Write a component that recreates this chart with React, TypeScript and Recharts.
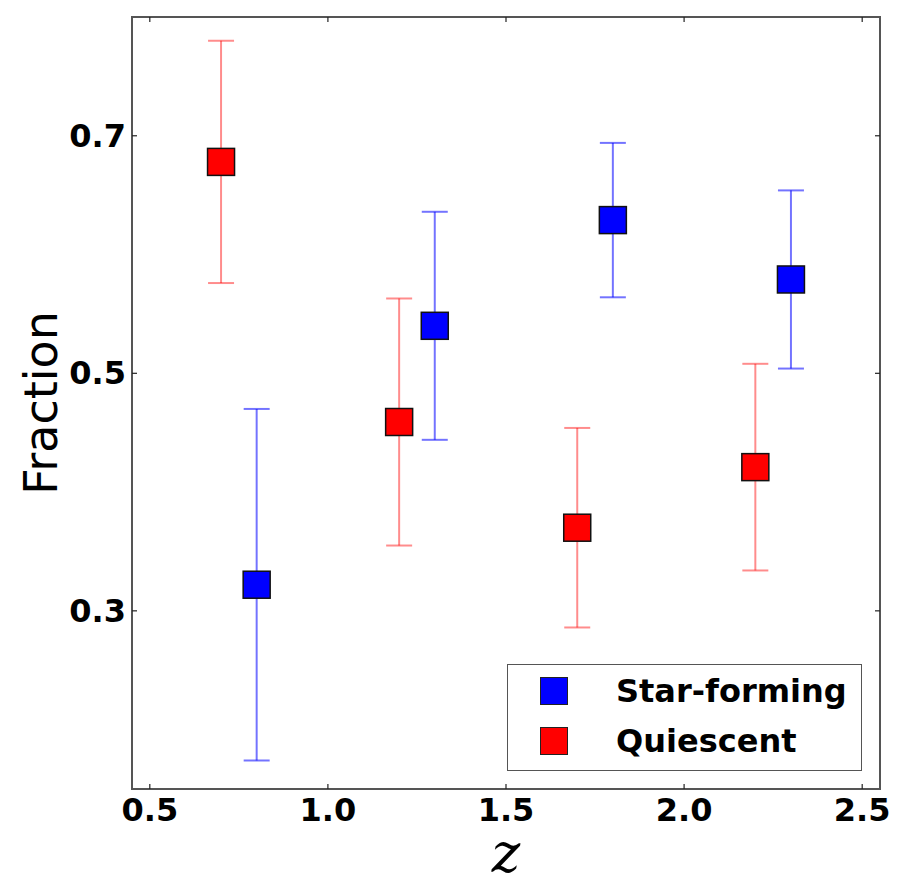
import React from 'react';
import { ScatterChart, Scatter, XAxis, YAxis, ErrorBar, ReferenceArea } from 'recharts';

// redshift bins, fractions and 1-sigma errors
const sfZ = [0.8, 1.3, 1.8, 2.3];
const sfFrac = [0.322, 0.54, 0.629, 0.579];
const sfErr = [0.148, 0.096, 0.065, 0.075];

const qZ = [0.7, 1.2, 1.7, 2.2];
const qFrac = [0.678, 0.459, 0.37, 0.421];
const qErr = [0.102, 0.104, 0.084, 0.087];

const xTicks = [0.5, 1.0, 1.5, 2.0, 2.5];
const yTicks = [0.3, 0.5, 0.7];
const xDomain = [0.45, 2.55];
const yDomain = [0.15, 0.8];

const sfData = sfZ.map((z, i) => ({ z, frac: sfFrac[i], err: sfErr[i] }));
const qData = qZ.map((z, i) => ({ z, frac: qFrac[i], err: qErr[i] }));

const FONT = '"DejaVu Sans", sans-serif';
const FRAME = '#555';
const TICK_LEN = 5;
const PLOT_TOP = 17;

// bottom tick also draws its mirror tick on the top frame (matplotlib style)
const BottomTick = ({ x, y, payload }: any) => (
  <g>
    <line x1={x} y1={y} x2={x} y2={y - TICK_LEN} stroke="#222" strokeWidth={1.2} />
    <line x1={x} y1={PLOT_TOP} x2={x} y2={PLOT_TOP + TICK_LEN} stroke="#222" strokeWidth={1.2} />
    <text x={x} y={y + 32} textAnchor="middle" fontFamily={FONT} fontWeight="bold" fontSize={32} fill="#000">
      {Number(payload.value).toFixed(1)}
    </text>
  </g>
);

const LeftTick = ({ x, y, payload }: any) => (
  <g>
    <line x1={x} y1={y} x2={x + TICK_LEN} y2={y} stroke="#222" strokeWidth={1.2} />
    <text x={x - 6} y={y + 11} textAnchor="end" fontFamily={FONT} fontWeight="bold" fontSize={32} fill="#000">
      {Number(payload.value).toFixed(1)}
    </text>
  </g>
);

const RightTick = ({ x, y }: any) => (
  <line x1={x} y1={y} x2={x - TICK_LEN} y2={y} stroke="#222" strokeWidth={1.2} />
);

const square = (fill: string) => (props: any) => (
  <rect x={props.cx - 13.5} y={props.cy - 13.5} width={27} height={27} fill={fill} stroke="#111" strokeWidth={1.5} />
);

const legendItems = [
  { name: 'Star-forming', color: '#0000ff' },
  { name: 'Quiescent', color: '#ff0000' },
];

export default function App() {
  return (
    <div style={{ position: 'absolute', left: 0, top: 0, width: 900, height: 883, background: '#fff' }}>
      <ScatterChart width={900} height={883} margin={{ top: PLOT_TOP, right: 19, left: 0, bottom: 0 }}>
        <XAxis
          xAxisId="b"
          type="number"
          dataKey="z"
          domain={xDomain}
          ticks={xTicks}
          allowDataOverflow
          height={94}
          tickSize={0}
          tickMargin={0}
          tickLine={false}
          axisLine={false}
          tick={<BottomTick />}
          interval={0}
        />
        <YAxis
          yAxisId="l"
          type="number"
          dataKey="frac"
          domain={yDomain}
          ticks={yTicks}
          allowDataOverflow
          width={132}
          tickSize={0}
          tickMargin={0}
          tickLine={false}
          axisLine={false}
          tick={<LeftTick />}
          interval={0}
        />
        <YAxis
          yAxisId="r"
          orientation="right"
          type="number"
          domain={yDomain}
          ticks={yTicks}
          allowDataOverflow
          width={1}
          tickSize={0}
          tickMargin={0}
          tickLine={false}
          axisLine={false}
          tick={<RightTick />}
          interval={0}
        />
        <ReferenceArea
          xAxisId="b"
          yAxisId="l"
          x1={xDomain[0]}
          x2={xDomain[1]}
          y1={yDomain[0]}
          y2={yDomain[1]}
          fill="none"
          stroke={FRAME}
          strokeWidth={2}
          ifOverflow="visible"
        />
        <Scatter
          name="Star-forming"
          data={sfData}
          xAxisId="b"
          yAxisId="l"
          shape={square('#0000ff')}
          isAnimationActive={false}
        >
          <ErrorBar dataKey="err" direction="y" width={13} stroke="#0000ff" strokeOpacity={0.55} strokeWidth={2} />
        </Scatter>
        <Scatter
          name="Quiescent"
          data={qData}
          xAxisId="b"
          yAxisId="l"
          shape={square('#ff0000')}
          isAnimationActive={false}
        >
          <ErrorBar dataKey="err" direction="y" width={13} stroke="#ff0000" strokeOpacity={0.45} strokeWidth={2} />
        </Scatter>
        <text x={57} y={403} transform="rotate(-90 57 403)" textAnchor="middle" fontFamily={FONT} fontSize={46} fill="#000">
          Fraction
        </text>
        <text x={506} y={872} textAnchor="middle" fontFamily='"DejaVu Serif", serif' fontStyle="italic" fontSize={54} fill="#000">
          z
        </text>
      </ScatterChart>
      <div
        style={{
          position: 'absolute',
          left: 507,
          top: 664,
          width: 355,
          height: 107,
          border: '1.5px solid #555',
          boxSizing: 'border-box',
          background: '#fff',
          fontFamily: FONT,
          fontWeight: 'bold',
          fontSize: 32,
        }}
      >
        {legendItems.map((item, i) => (
          <div
            key={item.name}
            style={{ position: 'absolute', left: 32, top: 12 + i * 50, height: 28, display: 'flex', alignItems: 'center' }}
          >
            <div style={{ width: 26, height: 26, background: item.color, border: '1px solid #222' }} />
            <span style={{ marginLeft: 48, lineHeight: '28px', color: '#000' }}>{item.name}</span>
          </div>
        ))}
      </div>
    </div>
  );
}
